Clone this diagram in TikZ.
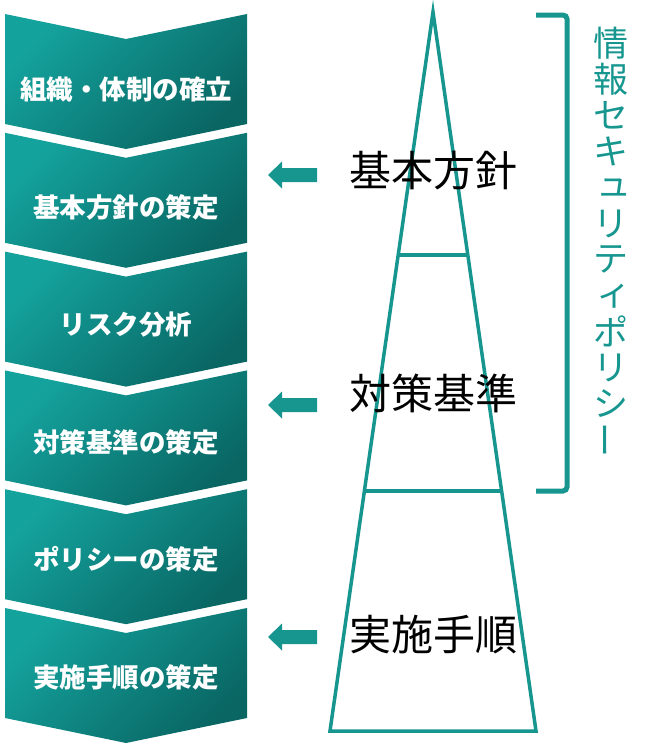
\documentclass[tikz,border=0pt]{standalone}
\usepackage{fontspec}
\usetikzlibrary{calc}
\newfontfamily\jp{Noto Sans CJK JP}
\definecolor{tealL}{HTML}{14A29D}
\definecolor{tealD}{HTML}{096663}
\definecolor{tline}{HTML}{16968F}
\tikzset{
  chev/.style={top color=tealL, bottom color=tealD, shading angle=45, draw=none},
  chevtext/.style={text=white, inner sep=0pt, font=\jp\bfseries\fontsize{26.5}{26.5}\selectfont},
  level/.style={text=black, inner sep=0pt, font=\jp\fontsize{42}{42}\selectfont},
  tri/.style={draw=tline, line width=3.5pt, line join=miter},
  larrow/.style={fill=tline, draw=none},
  brk/.style={draw=tline, line width=5pt, rounded corners=4pt},
  vch/.style={text=tline, inner sep=0pt, font=\jp\fontsize{35}{35}\selectfont}
}
\begin{document}
\begin{tikzpicture}[x=1pt,y=-1pt]
\useasboundingbox (0,0) rectangle (649,744);

% chevrons
\foreach \i/\t in {0/組織・体制の確立,1/基本方針の策定,2/リスク分析,3/対策基準の策定,4/ポリシーの策定,5/実施手順の策定}{
  \pgfmathsetmacro{\y}{14+118.8*\i}
  \pgfmathsetmacro{\ty}{\y+75.5-1.3*\i}
  \shade[chev] (5,\y) -- (126,\y+25) -- (247,\y) -- (247,\y+110) -- (126,\y+135) -- (5,\y+110) -- cycle;
  \node[chevtext] (c\i) at (126,\ty) {\t};
}

% triangle
\coordinate (apex) at (433,12);
\coordinate (bl) at (330,731);
\coordinate (br) at (536,731);
\draw[tri] (apex) -- (br) -- (bl) -- cycle;
\coordinate (h1l) at ($(apex)!0.338!(bl)$);
\coordinate (h1r) at ($(apex)!0.338!(br)$);
\coordinate (h2l) at ($(apex)!0.666!(bl)$);
\coordinate (h2r) at ($(apex)!0.666!(br)$);
\draw[tri] (h1l) -- (h1r);
\draw[tri] (h2l) -- (h2r);

% level labels
\node[level] (l1) at (433,171) {基本方針};
\node[level] (l2) at (433,393) {対策基準};
\node[level] (l3) at (433,635) {実施手順};

% left arrows
\foreach \ay in {175,405,637}{
  \fill[larrow] (268,\ay) -- (282,\ay-13.5) -- (282,\ay-7) -- (317,\ay-7) -- (317,\ay+7) -- (282,\ay+7) -- (282,\ay+13.5) -- cycle;
}

% bracket
\coordinate (bt) at (536,15);
\coordinate (bb) at (536,491);
\draw[brk] (bt) -- (567,15) -- (567,491) -- (bb);

% vertical text
\foreach \k/\ch/\dx in {0/情/0,1/報/0,2/セ/0,3/キ/0,4/ュ/3,5/リ/0,6/テ/0,7/ィ/3,8/ポ/0,9/リ/0,10/シ/0}{
  \node[vch] (v\k) at (611+\dx,43+36.1*\k) {\ch};
}
\node[vch, rotate=90] (v11) at (611,440) {ー};
\end{tikzpicture}
\end{document}
